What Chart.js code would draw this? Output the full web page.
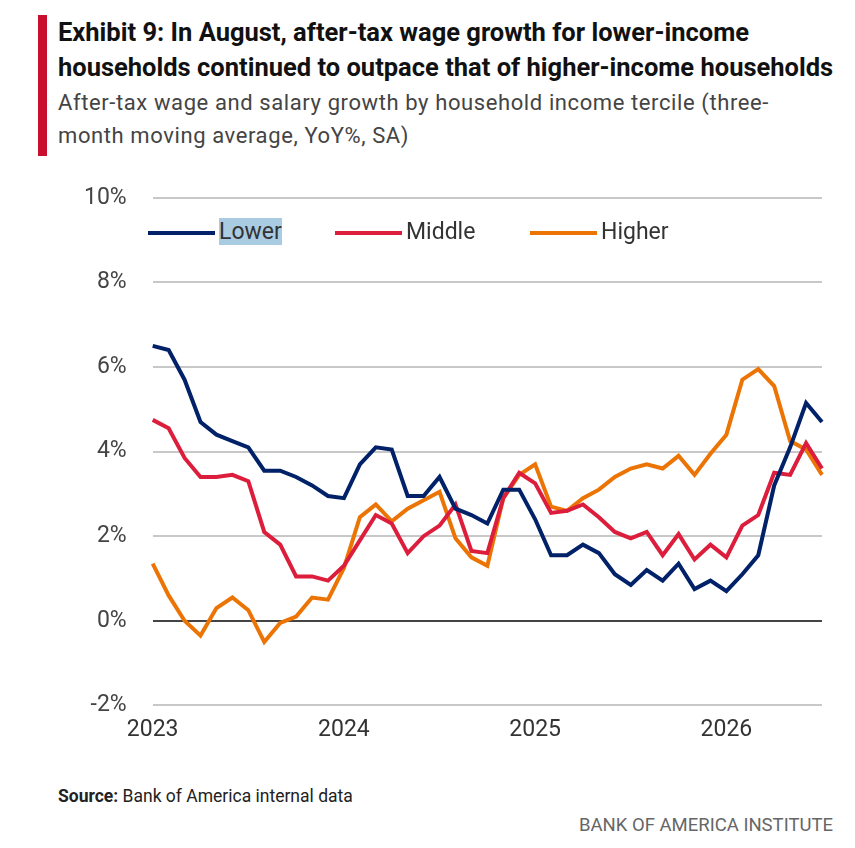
<!DOCTYPE html>
<html>
<head>
<meta charset="utf-8">
<script src="https://cdn.jsdelivr.net/npm/chart.js@4"></script>
<style>
  body { margin: 0; background: #fff; font-family: Roboto, sans-serif; }
  #wrap { position: relative; width: 855px; height: 848px; }
  #bar { position: absolute; left: 38px; top: 15px; width: 9px; height: 141px; background: #c8102e; }
  #title { position: absolute; left: 58px; top: 15px; font-size: 25.5px; font-weight: bold; color: #111; line-height: 35px; letter-spacing: 0px; }
  #sub { position: absolute; left: 58px; top: 86px; font-size: 22px; color: #444; line-height: 33px; letter-spacing: 0.6px; }
  #chartBox { position: absolute; left: 58px; top: 158px; }
  #legend { position: absolute; top: 218px; left: 148px; font-size: 23px; color: #333; }
  .item { position: absolute; white-space: nowrap; }
  .sw { display: inline-block; width: 67px; height: 4px; vertical-align: middle; margin-right: 4px; }
  #source { position: absolute; left: 58px; top: 786px; font-size: 17.5px; color: #222; }
  #foot { position: absolute; right: 22px; top: 814px; font-size: 18.5px; color: #666; }
</style>
</head>
<body>
<div id="wrap">
  <div id="bar"></div>
  <div id="title">Exhibit 9: In August, after-tax wage growth for lower-income<br>households continued to outpace that of higher-income households</div>
  <div id="sub">After-tax wage and salary growth by household income tercile (three-<br>month moving average, YoY%, SA)</div>
  <div id="chartBox"><canvas id="c" width="800" height="589"></canvas></div>
  <div id="legend">
    <div class="item" style="left:0"><span class="sw" style="background:#012169"></span><span style="background:#a9cce3">Lower</span></div>
    <div class="item" style="left:187px"><span class="sw" style="background:#dc1e3c"></span>Middle</div>
    <div class="item" style="left:382px"><span class="sw" style="background:#ec7404"></span>Higher</div>
  </div>
  <div id="source"><b>Source:</b> Bank of America internal data</div>
  <div id="foot">BANK OF AMERICA INSTITUTE</div>
</div>
<script>
const yearLabels = { 0: '2023', 12: '2024', 24: '2025', 36: '2026' };
const months = Array.from({ length: 43 }, (_, i) => i);
const lower = [6.5,6.4,5.7,4.7,4.4,4.25,4.1,3.55,3.55,3.4,3.2,2.95,2.9,3.7,4.1,4.05,2.95,2.95,3.4,2.65,2.5,2.3,3.1,3.1,2.4,1.55,1.55,1.8,1.6,1.1,0.85,1.2,0.95,1.35,0.75,0.95,0.7,1.1,1.55,3.2,4.1,5.15,4.7];
const middle = [4.75,4.55,3.85,3.4,3.4,3.45,3.3,2.1,1.8,1.05,1.05,0.95,1.3,1.9,2.5,2.3,1.6,2.0,2.25,2.75,1.65,1.6,2.9,3.5,3.25,2.55,2.6,2.75,2.45,2.1,1.95,2.1,1.55,2.05,1.45,1.8,1.5,2.25,2.5,3.5,3.45,4.2,3.6];
const higher = [1.35,0.6,0.0,-0.35,0.3,0.55,0.25,-0.5,-0.05,0.1,0.55,0.5,1.25,2.45,2.75,2.35,2.65,2.85,3.05,1.95,1.5,1.3,2.9,3.45,3.7,2.7,2.6,2.9,3.1,3.4,3.6,3.7,3.6,3.9,3.45,3.95,4.4,5.7,5.95,5.55,4.25,4.05,3.45];

const ds = (data, color) => ({ data, borderColor: color, borderWidth: 4, pointRadius: 0, tension: 0, fill: false });

new Chart(document.getElementById('c'), {
  type: 'line',
  data: {
    labels: months,
    datasets: [ds(lower, '#012169'), ds(middle, '#dc1e3c'), ds(higher, '#ec7404')]
  },
  options: {
    responsive: false,
    animation: false,
    layout: { padding: { right: 36, top: 6 } },
    plugins: { legend: { display: false }, tooltip: { enabled: false } },
    scales: {
      x: {
        grid: { display: false },
        border: { display: false },
        ticks: {
          autoSkip: false, maxRotation: 0, color: '#333', font: { size: 23, family: 'Roboto' },
          callback: (v, i) => yearLabels[i] || ''
        }
      },
      y: {
        min: -2, max: 10,
        border: { display: false },
        grid: {
          color: ctx => ctx.tick.value === 0 ? '#444' : '#c8c8c8',
          lineWidth: 2,
          drawTicks: false
        },
        ticks: {
          stepSize: 2, color: '#444', padding: 26, font: { size: 23, family: 'Roboto' },
          callback: v => v + '%'
        }
      }
    }
  }
});
</script>
</body>
</html>
